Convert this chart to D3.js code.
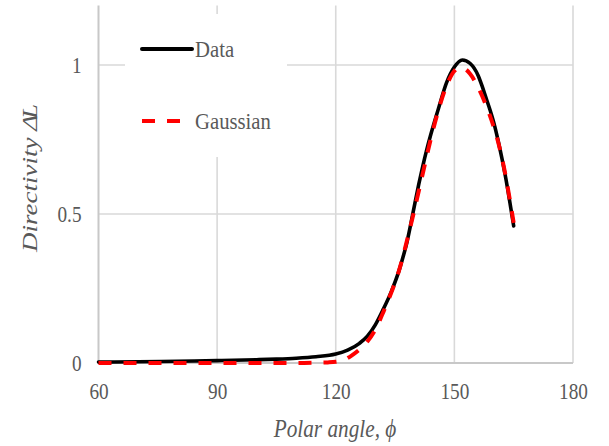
<!DOCTYPE html>
<html>
<head>
<meta charset="utf-8">
<script src="https://cdn.jsdelivr.net/npm/d3@7"></script>
<style>
  html, body { margin: 0; padding: 0; background: #fff; }
  svg { display: block; }
  text { font-family: "Liberation Serif", "Times New Roman", serif; fill: #595959; }
</style>
</head>
<body>
<svg id="chart" width="609" height="446"></svg>
<script>
// Polar angle (degrees) and measured directivity
const dataAngle = [60, 70, 80, 90, 100, 105, 110, 115, 120, 123, 126, 128, 130, 132, 134, 136, 137, 138, 139, 140, 141, 142, 143, 144, 146, 148, 150, 152, 154, 156, 157, 158, 159, 160, 161, 162, 163, 164, 165];
const dataValue = [0.003, 0.004, 0.006, 0.008, 0.011, 0.013, 0.016, 0.021, 0.030, 0.043, 0.066, 0.090, 0.128, 0.180, 0.238, 0.310, 0.355, 0.405, 0.468, 0.535, 0.600, 0.660, 0.715, 0.765, 0.855, 0.940, 0.993, 1.017, 1.005, 0.965, 0.930, 0.890, 0.850, 0.805, 0.750, 0.688, 0.620, 0.542, 0.460];

// Gaussian fit of the directivity
const gaussAngle = [60, 70, 80, 90, 100, 110, 115, 118, 120, 122, 124, 126, 128, 130, 132, 134, 136, 138, 140, 142, 144, 146, 148, 150, 151, 152, 154, 156, 158, 160, 161, 162, 163, 164, 165];
const gaussValue = [0, 0, 0, 0, 0, 0, 0.001, 0.002, 0.004, 0.010, 0.025, 0.045, 0.072, 0.112, 0.170, 0.235, 0.310, 0.410, 0.520, 0.635, 0.750, 0.850, 0.930, 0.980, 0.990, 0.990, 0.970, 0.925, 0.865, 0.790, 0.745, 0.690, 0.625, 0.550, 0.470];

const xTicks = [60, 90, 120, 150, 180];
const yTicks = [0, 0.5, 1];
const yTickLabels = ["0", "0.5", "1"];
const seriesNames = ["Data", "Gaussian"];
const xTitle = "Polar angle, \u03D5";
const yTitle = "Directivity \u0394";
const yTitleSub = "L";

const svg = d3.select("#chart");
const SQ = 0.8; // horizontal squeeze of the serif lettering

const x = d3.scaleLinear().domain([60, 180]).range([98.5, 573]);
const y = d3.scaleLinear().domain([0, 1.2]).range([363, 5.4]);

// gridlines
const grid = svg.append("g");
grid.selectAll("line.v").data(xTicks.slice(1)).join("line")
  .attr("x1", d => x(d)).attr("x2", d => x(d))
  .attr("y1", y(0)).attr("y2", y(1.2))
  .attr("stroke", "#d9d9d9").attr("stroke-width", 1.6);
grid.selectAll("line.h").data(yTicks.slice(1)).join("line")
  .attr("x1", x(60)).attr("x2", x(180))
  .attr("y1", d => y(d)).attr("y2", d => y(d))
  .attr("stroke", "#d9d9d9").attr("stroke-width", 1.6);

// axis lines
svg.append("line").attr("x1", x(60)).attr("x2", x(60)).attr("y1", y(0)).attr("y2", y(1.2))
  .attr("stroke", "#c8c8c8").attr("stroke-width", 2);
svg.append("line").attr("x1", x(60)).attr("x2", x(180)).attr("y1", y(0)).attr("y2", y(0))
  .attr("stroke", "#c8c8c8").attr("stroke-width", 2);

// tick labels
const xAxis = svg.append("g").attr("transform", `translate(0,${y(0)})`)
  .call(d3.axisBottom(x).tickValues(xTicks).tickSize(0).tickPadding(0).tickFormat(d3.format("d")));
xAxis.select(".domain").remove();
xAxis.selectAll("text")
  .attr("y", 36).attr("dy", null)
  .attr("transform", `scale(${SQ},1)`)
  .style("font-size", "24px").style("fill", "#595959");

const yAxis = svg.append("g").attr("transform", `translate(${x(60)},0)`)
  .call(d3.axisLeft(y).tickValues(yTicks).tickSize(0).tickPadding(0).tickFormat((d, i) => yTickLabels[i]));
yAxis.select(".domain").remove();
yAxis.selectAll("text")
  .attr("x", -17 / SQ).attr("dy", "0.33em")
  .attr("transform", `scale(${SQ},1)`)
  .style("font-size", "24px").style("fill", "#595959");

// legend (white box hides gridlines beneath)
svg.append("rect").attr("x", 125).attr("y", 14).attr("width", 162).attr("height", 143).attr("fill", "#fff");
const legend = [
  { name: seriesNames[0], color: "#000", dash: null, x2: 192, cy: 49 },
  { name: seriesNames[1], color: "#ff0000", dash: "13,12", x2: 181, cy: 121 }
];
const lg = svg.append("g").selectAll("g").data(legend).join("g");
lg.append("line")
  .attr("x1", 142).attr("x2", d => d.x2).attr("y1", d => d.cy).attr("y2", d => d.cy)
  .attr("stroke", d => d.color).attr("stroke-width", 4)
  .attr("stroke-dasharray", d => d.dash)
  .attr("stroke-linecap", d => d.dash ? "butt" : "round");
lg.append("text")
  .attr("transform", d => `translate(195,${d.cy + 7.5}) scale(0.9,1)`)
  .style("font-size", "23px")
  .text(d => d.name);

// curves
const line = d3.line().curve(d3.curveMonotoneX).x(d => x(d[0])).y(d => y(d[1]));
svg.append("path")
  .datum(d3.zip(dataAngle, dataValue))
  .attr("d", line)
  .attr("fill", "none").attr("stroke", "#000").attr("stroke-width", 3.6)
  .attr("stroke-linejoin", "round").attr("stroke-linecap", "round");
svg.append("path")
  .datum(d3.zip(gaussAngle, gaussValue))
  .attr("d", line)
  .attr("fill", "none").attr("stroke", "#ff0000").attr("stroke-width", 4)
  .attr("stroke-dasharray", "13,12")
  .attr("stroke-linejoin", "round");

// axis titles
svg.append("text")
  .attr("transform", `translate(335,437) scale(0.85,1)`)
  .attr("text-anchor", "middle")
  .style("font-size", "25px").style("font-style", "italic")
  .text(xTitle);

const yt = svg.append("text")
  .attr("transform", `translate(37,178) scale(${SQ},1) rotate(-90)`)
  .attr("text-anchor", "middle")
  .style("font-size", "27px").style("font-style", "italic");
yt.append("tspan").text(yTitle);
yt.append("tspan").attr("dx", -4).text(yTitleSub);
</script>
</body>
</html>
